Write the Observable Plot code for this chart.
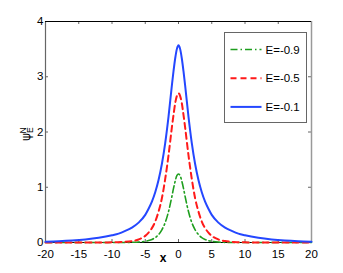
<!DOCTYPE html>
<html>
<head>
<meta charset="utf-8">
<script src="https://cdn.jsdelivr.net/npm/d3@7"></script>
<script src="https://cdn.jsdelivr.net/npm/@observablehq/plot@0.6"></script>
<style>
  html, body { margin: 0; padding: 0; background: #fff; }
  #chart svg { display: block; }
</style>
</head>
<body>
<div id="chart"></div>
<script>
// x sample positions
const xs = [-20,-18,-16,-14,-12,-10,-9,-8,-7,-6,-5,-4.5,-4,-3.5,-3,-2.5,-2,-1.5,-1,-0.75,-0.5,-0.25,0,
            0.25,0.5,0.75,1,1.5,2,2.5,3,3.5,4,4.5,5,6,7,8,9,10,12,14,16,18,20];

// E = -0.9 (green, dash-dot)
const psiE09 = [0,0,0,0,0,0,0,0.001,0.003,0.008,0.022,0.035,0.055,0.089,0.143,0.23,0.36,0.56,0.83,0.98,1.11,1.21,1.24,
                1.21,1.11,0.98,0.83,0.56,0.36,0.23,0.143,0.089,0.055,0.035,0.022,0.008,0.003,0.001,0,0,0,0,0,0,0];
// E = -0.5 (red, dashed)
const psiE05 = [0,0,0,0,0.001,0.003,0.006,0.012,0.026,0.055,0.12,0.18,0.26,0.38,0.56,0.80,1.15,1.58,2.08,2.31,2.52,2.65,2.70,
                2.65,2.52,2.31,2.08,1.58,1.15,0.80,0.56,0.38,0.26,0.18,0.12,0.055,0.026,0.012,0.006,0.003,0.001,0,0,0,0];
// E = -0.1 (blue, solid)
const psiE01 = [0.014,0.022,0.035,0.055,0.085,0.13,0.16,0.21,0.27,0.36,0.50,0.61,0.74,0.91,1.13,1.42,1.80,2.28,2.84,3.10,3.33,3.50,3.57,
                3.50,3.33,3.10,2.84,2.28,1.80,1.42,1.13,0.91,0.74,0.61,0.50,0.36,0.27,0.21,0.16,0.13,0.085,0.055,0.035,0.022,0.014];

const seriesNames = ["E=-0.9", "E=-0.5", "E=-0.1"];
const seriesColors = ["#1e9e1e", "#ff1a1a", "#2447ff"];
const seriesDash = ["7,3,1.5,3", "6,4", null];
const seriesWidth = [1.6, 2, 2];

const xTicks = [-20,-15,-10,-5,0,5,10,15,20];
const yTicks = [0,1,2,3,4];

const seriesValues = [psiE09, psiE05, psiE01];
const data = seriesNames.flatMap((name, i) =>
  xs.map((x, j) => ({x, y: seriesValues[i][j], name})));

const W = 343, H = 273;
const mL = 45, mR = 32, mT = 21, mB = 31;
const frameH = H - mT - mB, frameW = W - mL - mR;
const font = "'Liberation Sans Narrow', 'Liberation Sans', Arial, sans-serif";

const lineMarks = seriesNames.map((name, i) =>
  Plot.line(data.filter(d => d.name === name), {
    x: "x", y: "y",
    stroke: seriesColors[i],
    strokeWidth: seriesWidth[i],
    strokeDasharray: seriesDash[i] || undefined,
    curve: "monotone-x"
  }));

const plot = Plot.plot({
  width: W, height: H,
  marginLeft: mL, marginRight: mR, marginTop: mT, marginBottom: mB,
  style: {fontFamily: font, fontSize: "11.5px", color: "#000", background: "#fff", overflow: "visible"},
  x: {domain: [-20, 20]},
  y: {domain: [0, 4]},
  marks: [
    Plot.axisX(xTicks, {tickSize: 0, tickPadding: 7, label: null, tickFormat: d => String(d), fill: "#000"}),
    Plot.axisY(yTicks, {tickSize: 0, tickPadding: 2, label: null, tickFormat: d => String(d), fill: "#000"}),
    // inward ticks
    Plot.tickX(xTicks, {x: d => d, stroke: "#666", insetTop: frameH - 3}),
    Plot.tickX(xTicks, {x: d => d, stroke: "#666", insetBottom: frameH - 3}),
    Plot.tickY(yTicks, {y: d => d, stroke: "#666", insetRight: frameW - 3}),
    Plot.tickY(yTicks, {y: d => d, stroke: "#666", insetLeft: frameW - 3}),
    // box
    Plot.ruleX([-20], {stroke: "#666", strokeWidth: 1.2}),
    Plot.ruleX([20], {stroke: "#999", strokeWidth: 1.5}),
    Plot.ruleY([4], {stroke: "#000", strokeWidth: 1.2}),
    Plot.ruleY([0], {stroke: "#000", strokeWidth: 1.2}),
    ...lineMarks
  ]
});

document.getElementById("chart").appendChild(plot);

const svg = d3.select(plot);

// x label
svg.append("text")
  .attr("x", 163).attr("y", 262)
  .attr("text-anchor", "middle")
  .attr("font-family", font).attr("font-size", 12).attr("font-weight", "bold")
  .text("x");

// y label: psi_E^N rotated
const yl = svg.append("text")
  .attr("transform", "translate(30,141) rotate(-90)")
  .attr("text-anchor", "start")
  .attr("font-family", font).attr("font-size", 12);
yl.append("tspan").attr("font-family", "'DejaVu Sans', sans-serif").attr("font-size", 12).text("ψ");
yl.append("tspan").attr("font-size", 8.5).attr("dy", 2.5).text("E");
yl.append("tspan").attr("font-size", 8.5).attr("dx", -6).attr("dy", -7).text("N");

// legend
const lg = svg.append("g").attr("transform", "translate(224.5,32.5)");
lg.append("rect").attr("width", 82).attr("height", 90)
  .attr("fill", "#fff").attr("stroke", "#666").attr("stroke-width", 1);
seriesNames.forEach((name, i) => {
  const yy = 17 + i * 28.7;
  lg.append("line").attr("x1", 6).attr("x2", 37).attr("y1", yy).attr("y2", yy)
    .attr("stroke", seriesColors[i]).attr("stroke-width", seriesWidth[i])
    .attr("stroke-dasharray", seriesDash[i]);
  lg.append("text").attr("x", 41).attr("y", yy + 4)
    .attr("text-anchor", "start")
    .attr("font-family", font).attr("font-size", 11.5).attr("fill", "#000")
    .text(name);
});
</script>
</body>
</html>
